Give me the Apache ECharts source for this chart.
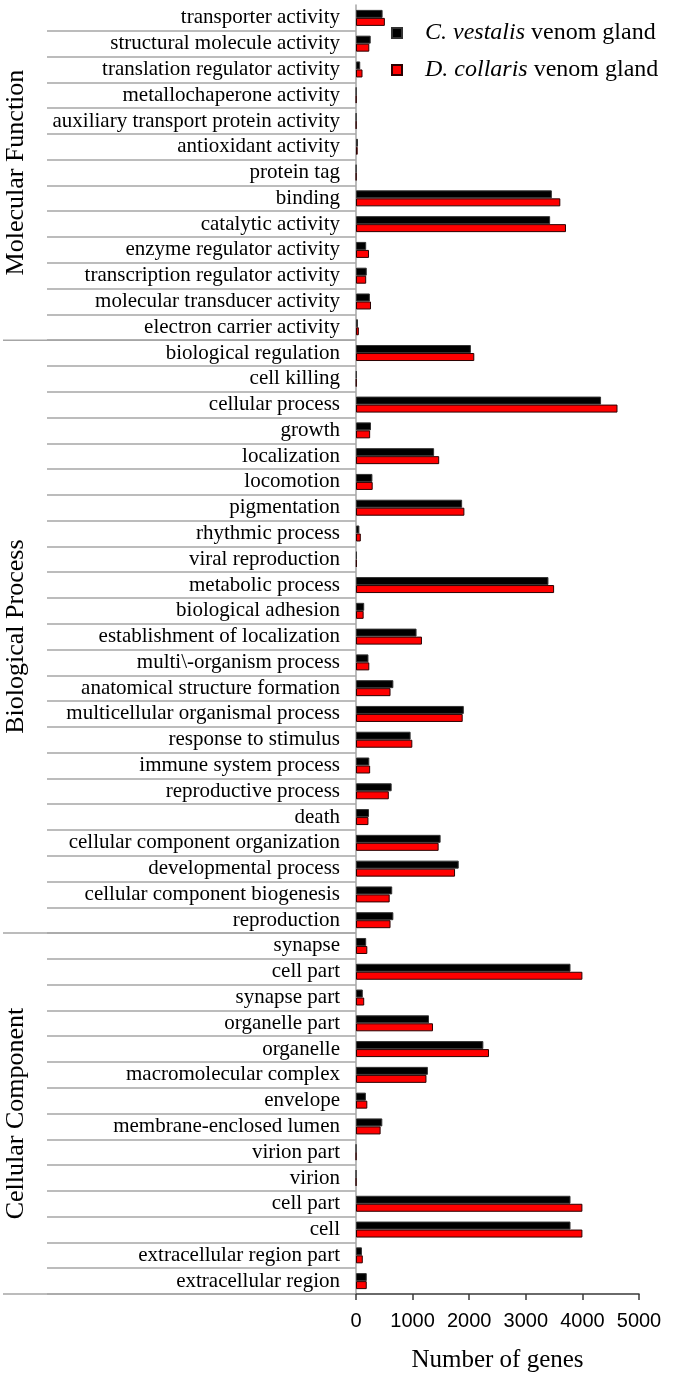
<!DOCTYPE html>
<html>
<head>
    <meta charset="UTF-8" />
    <title>GO annotation of venom gland genes</title>
    <script src="https://cdn.jsdelivr.net/npm/echarts@6/dist/echarts.min.js"></script>
    <style>
        html, body { margin: 0; padding: 0; background: #fff; }
        #main { width: 675px; height: 1378px; }
    </style>
</head>
<body>
<div id="main"></div>
<script>
// GO terms, top to bottom
var categories = [
    'transporter activity', 'structural molecule activity', 'translation regulator activity',
    'metallochaperone activity', 'auxiliary transport protein activity', 'antioxidant activity',
    'protein tag', 'binding', 'catalytic activity', 'enzyme regulator activity',
    'transcription regulator activity', 'molecular transducer activity', 'electron carrier activity',
    'biological regulation', 'cell killing', 'cellular process', 'growth', 'localization',
    'locomotion', 'pigmentation', 'rhythmic process', 'viral reproduction', 'metabolic process',
    'biological adhesion', 'establishment of localization', 'multi\\-organism process',
    'anatomical structure formation', 'multicellular organismal process', 'response to stimulus',
    'immune system process', 'reproductive process', 'death', 'cellular component organization',
    'developmental process', 'cellular component biogenesis', 'reproduction',
    'synapse', 'cell part', 'synapse part', 'organelle part', 'organelle', 'macromolecular complex',
    'envelope', 'membrane-enclosed lumen', 'virion part', 'virion', 'cell part', 'cell',
    'extracellular region part', 'extracellular region'
];
var vestalis = [
    470, 260, 75, 5, 4, 35, 4, 3460, 3430, 180, 190, 245, 35,
    2030, 10, 4330, 265, 1380, 290, 1875, 60, 15, 3400, 145, 1070, 220, 660, 1905, 965,
    235, 630, 230, 1495, 1815, 640, 660,
    180, 3790, 120, 1290, 2250, 1270, 175, 465, 2, 2, 3790, 3790, 105, 190
];
var collaris = [
    510, 235, 115, 5, 4, 30, 4, 3610, 3710, 230, 180, 265, 50,
    2090, 8, 4620, 250, 1470, 295, 1915, 85, 12, 3500, 135, 1165, 235, 610, 1885, 995,
    250, 580, 220, 1460, 1750, 595, 610,
    200, 4000, 145, 1360, 2350, 1245, 200, 435, 2, 2, 4000, 4000, 120, 190
];
var groupNames = ['Molecular Function', 'Biological Process', 'Cellular Component'];
var groupSizes = [13, 23, 14];
var xTicks = [0, 1000, 2000, 3000, 4000, 5000];
var seriesNames = ['C. vestalis venom gland', 'D. collaris venom gland'];

var serif = "'Liberation Serif', 'Times New Roman', serif";
var chart = echarts.init(document.getElementById('main'));

chart.setOption({
    animation: false,
    grid: { left: 356, right: 36, top: 5, bottom: 82 },
    legend: {
        data: seriesNames,
        orient: 'vertical',
        left: 386,
        top: 15,
        itemWidth: 10,
        itemHeight: 10,
        itemGap: 11,
        icon: 'rect',
        formatter: function (name) {
            var i = name.indexOf(' ', 3);
            return '{sp| }{it|' + name.slice(0, i) + '}{rm|' + name.slice(i) + '}';
        },
        textStyle: {
            lineHeight: 26,
            rich: {
                sp: { width: 18 },
                it: { fontFamily: serif, fontStyle: 'italic', fontSize: 24, color: '#000' },
                rm: { fontFamily: serif, fontSize: 24, color: '#000' }
            }
        }
    },
    xAxis: {
        type: 'value',
        min: xTicks[0],
        max: xTicks[xTicks.length - 1],
        interval: xTicks[1] - xTicks[0],
        name: 'Number of genes',
        nameLocation: 'middle',
        nameGap: 54,
        nameTextStyle: { fontFamily: serif, fontSize: 25, color: '#000' },
        axisLine: { show: true, lineStyle: { color: '#3a3a3a', width: 1.5 } },
        axisTick: { show: true, length: 6, lineStyle: { color: '#3a3a3a', width: 1.5 } },
        axisLabel: {
            margin: 17,
            fontSize: 20,
            fontFamily: "'Liberation Sans Narrow', 'Liberation Sans', sans-serif",
            color: '#000',
            formatter: function (v) { return String(v); }
        },
        splitLine: { show: false }
    },
    yAxis: {
        type: 'category',
        inverse: true,
        data: categories,
        axisLine: { show: true, lineStyle: { color: '#a6a6a6', width: 1.5 } },
        axisTick: {
            show: true,
            interval: function (i) { return i > 0; },
            length: 309,
            lineStyle: { color: '#a6a6a6', width: 1.5 }
        },
        axisLabel: { interval: 0, margin: 16, fontSize: 21, fontFamily: serif, color: '#000' }
    },
    series: [
        {
            name: seriesNames[0],
            type: 'bar',
            data: vestalis,
            barWidth: 8,
            barGap: '0%',
            itemStyle: { color: '#000', borderColor: '#333', borderWidth: 1 }
        },
        {
            name: seriesNames[1],
            type: 'bar',
            data: collaris,
            barWidth: 8,
            barGap: '0%',
            itemStyle: { color: '#ff0000', borderColor: '#2a0000', borderWidth: 1 }
        }
    ]
});

// group boundaries and rotated group names, placed from the axis scale
var y0 = chart.convertToPixel({ yAxisIndex: 0 }, 0);
var band = chart.convertToPixel({ yAxisIndex: 0 }, 1) - y0;
var xZero = chart.convertToPixel({ xAxisIndex: 0 }, 0);
var elements = [];
var start = 0;
groupSizes.forEach(function (n, g) {
    var top = y0 + (start - 0.5) * band;
    var end = y0 + (start + n - 0.5) * band;
    elements.push({
        type: 'line',
        shape: { x1: 3, y1: end, x2: xZero, y2: end },
        style: { stroke: '#a6a6a6', lineWidth: 1.5 }
    });
    elements.push({
        type: 'text',
        x: 16,
        y: (top + end) / 2,
        rotation: Math.PI / 2,
        style: {
            text: groupNames[g],
            font: '26px ' + serif,
            fill: '#000',
            align: 'center',
            verticalAlign: 'middle'
        }
    });
    start += n;
});
chart.setOption({ graphic: elements });
</script>
</body>
</html>
